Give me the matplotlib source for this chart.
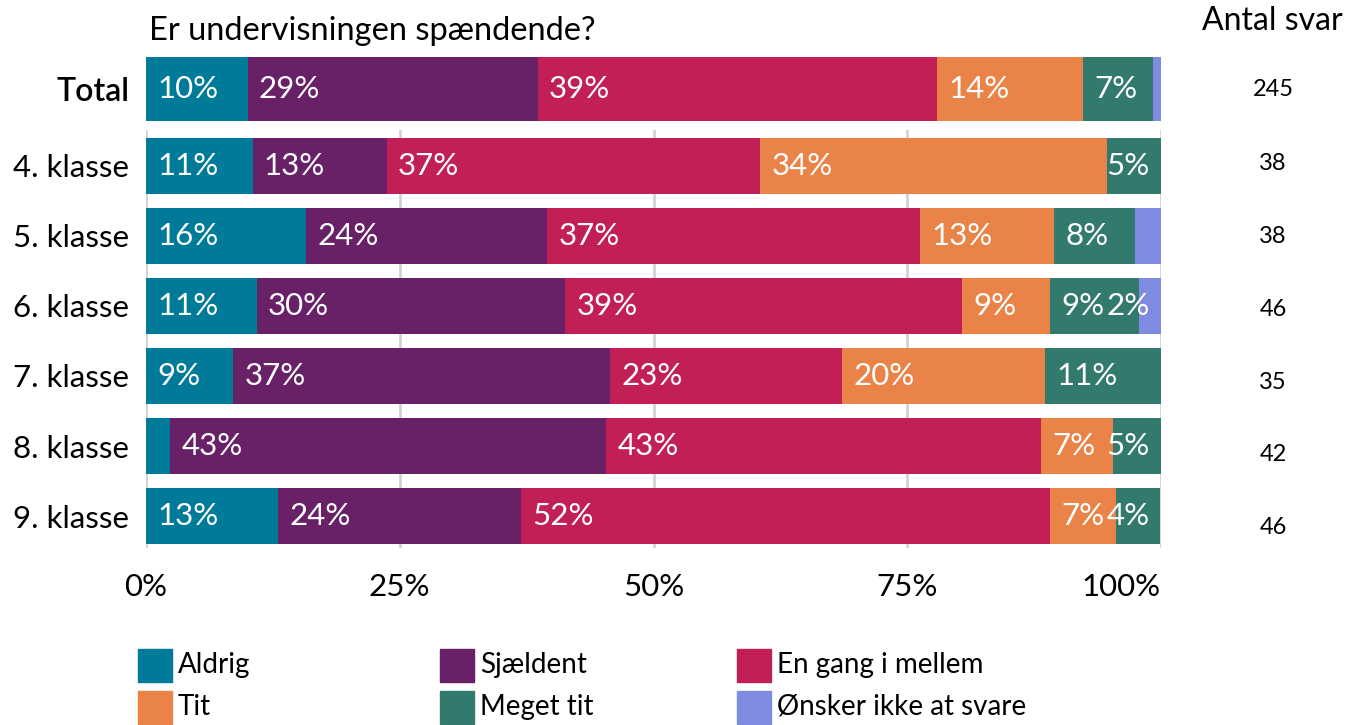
import numpy as np
import matplotlib
matplotlib.use("Agg")
import matplotlib.pyplot as plt
from matplotlib.patches import Rectangle
from matplotlib.transforms import blended_transform_factory

plt.rcParams["font.family"] = ["Lato", "DejaVu Sans"]

title = "Er undervisningen spændende?"
categories = ["Aldrig", "Sjældent", "En gang i mellem", "Tit", "Meget tit", "Ønsker ikke at svare"]
colors = ["#007a99", "#682167", "#c21f56", "#e98347", "#32796e", "#7f8be0"]

groups = ["4. klasse", "5. klasse", "6. klasse", "7. klasse", "8. klasse", "9. klasse"]
total_share = [10.0, 28.6, 39.3, 14.4, 6.9, 0.8]
share = np.array([
    [10.5, 13.2, 36.8, 34.2, 5.3, 0.0],
    [15.8, 23.7, 36.8, 13.2, 7.9, 2.6],
    [10.9, 30.4, 39.1, 8.7, 8.7, 2.2],
    [8.6, 37.1, 22.9, 20.0, 11.4, 0.0],
    [2.4, 42.9, 42.9, 7.1, 4.8, 0.0],
    [13.0, 23.9, 52.2, 6.5, 4.3, 0.0],
])
total_n = 245
group_n = [38, 38, 46, 35, 42, 46]

# segments whose value label is left out (row, category); row -1 is Total
no_label = {(-1, 5), (1, 5), (4, 0)}

W, H = 1347, 725
fig = plt.figure(figsize=(W / 100, H / 100), dpi=100)
ax_t = fig.add_axes([146 / W, 1 - 121 / H, 1015 / W, 64 / H])
ax = fig.add_axes([146 / W, 1 - 548 / H, 1015 / W, 418 / H])

labels = []


def draw_row(a, y, vals, h, row):
    left = 0.0
    for i, v in enumerate(vals):
        if v <= 0:
            continue
        a.barh(y, v, left=left, height=h, color=colors[i], zorder=3, linewidth=0)
        if (row, i) not in no_label:
            t = a.annotate(f"{int(v + 0.5)}%", (left, y), xytext=(8.2, 0),
                           textcoords="offset points", ha="left", va="center",
                           color="white", fontsize=22.5, zorder=4)
            labels.append((a, t, y))
        left += v


draw_row(ax_t, 0, total_share, 1.0, -1)
for r, vals in enumerate(share):
    draw_row(ax, r, vals, 0.8, r)

ax_t.set_xlim(0, 100)
ax_t.set_ylim(-0.5, 0.5)
ax_t.set_xticks([])
ax_t.set_yticks([0])
ax_t.set_yticklabels(["Total"], fontsize=23, fontweight="semibold")
ax_t.tick_params(axis="y", length=0, pad=12)
for s in ax_t.spines.values():
    s.set_visible(False)

ax.set_xlim(0, 100)
ax.set_ylim(5.457, -0.514)
ax.set_yticks(range(len(groups)))
ax.set_yticklabels(groups, fontsize=22.5)
ax.set_xticks([0, 25, 50, 75, 100])
ax.set_xticklabels(["0%", "25%", "50%", "75%", "100%"], fontsize=22.5)
ax.get_xticklabels()[-1].set_ha("right")
ax.tick_params(axis="y", length=0, pad=12)
ax.tick_params(axis="x", length=0, pad=18)
ax.grid(axis="x", color="#cfd3d7", linewidth=2, zorder=0)
for s in ax.spines.values():
    s.set_visible(False)

# keep labels near the right end inside the bar
fig.canvas.draw()
rend = fig.canvas.get_renderer()
for a, t, y in labels:
    bb = t.get_window_extent(rend)
    x_end = a.transData.transform((100, y))[0]
    if bb.x1 > x_end:
        t.xy = (100, y)
        t.set_ha("right")
        t.set_position((-8, 0))

fig.text(149 / W, 1 - 31 / H, title, fontsize=23.5, ha="left", va="center")
fig.text(1343 / W, 1 - 21 / H, "Antal svar", fontsize=23, ha="right", va="center")

# answer counts sit on a slightly wider row spacing than the bars
tr_t = blended_transform_factory(fig.transFigure, ax_t.transData)
ax_t.text(1273 / W, 0, str(total_n), transform=tr_t, ha="center", va="center", fontsize=17)
tr = blended_transform_factory(fig.transFigure, ax.transData)
for r, n in enumerate(group_n):
    ax.text(1273 / W, -0.04 + r * 1.042, str(n), transform=tr,
            ha="center", va="center", fontsize=17)

# legend, three fixed-width columns
col_x = [138, 440, 737]
row_y = [665, 707]
for i, name in enumerate(categories):
    cx = col_x[i % 3]
    cy = row_y[i // 3]
    fig.patches.append(Rectangle((cx / W, 1 - (cy + 17) / H), 34 / W, 33 / H,
                                 transform=fig.transFigure, color=colors[i]))
    fig.text((cx + 40) / W, 1 - cy / H, name, fontsize=20, ha="left", va="center")

fig.savefig("out.png", dpi=100)
